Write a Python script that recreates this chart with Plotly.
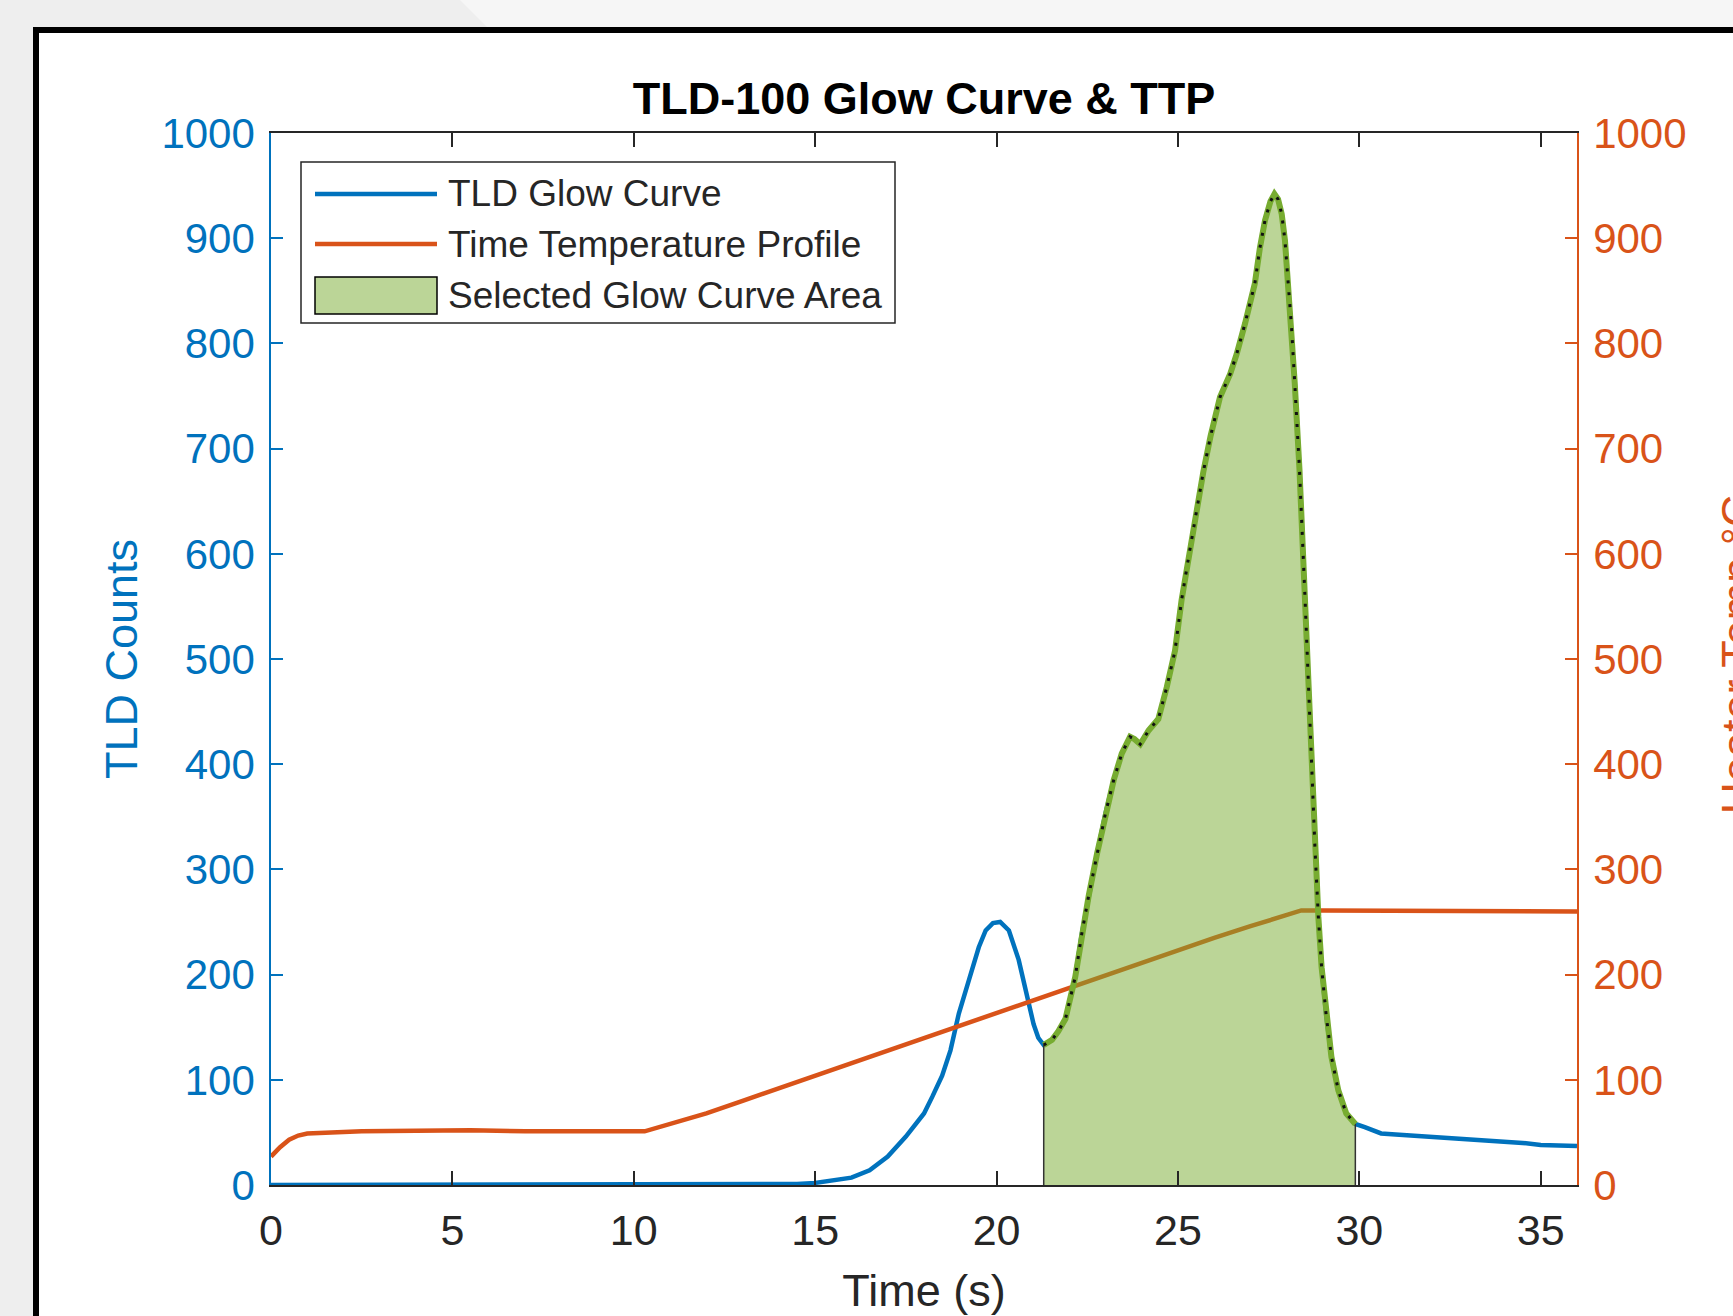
import plotly.graph_objects as go

# ---------------- data ----------------
glow_t = [0, 2, 4, 6, 8, 10, 12, 13, 13.5, 14, 14.5, 15, 15.5, 16, 16.5, 17, 17.5, 18,
          18.23, 18.5, 18.73, 18.96, 19.24, 19.51, 19.7, 19.9, 20.1, 20.34, 20.61, 20.84,
          21.02, 21.15, 21.3]
glow_counts = [0, 0, 0, 0, 0, 0, 0, 0, 1, 1, 1, 2, 4, 7, 14, 27, 46, 68,
               84, 104, 128, 163, 195, 226, 242, 249, 250, 242, 214, 179,
               153, 140, 133]

sel_t = [21.3, 21.53, 21.7, 21.9, 22.17, 22.35, 22.54, 22.77, 23.0, 23.23, 23.45, 23.68,
         23.8, 23.96, 24.19, 24.46, 24.69, 24.92, 25.1, 25.3, 25.5, 25.7, 25.9, 26.16,
         26.44, 26.62, 26.85, 27.12, 27.26, 27.4, 27.55, 27.66, 27.76, 27.86, 27.95,
         28.04, 28.13, 28.22, 28.35, 28.5, 28.65, 28.78, 28.87, 28.96, 29.09, 29.23,
         29.42, 29.64, 29.89]
sel_counts = [133, 138, 146, 158, 198, 239, 275, 315, 353, 385, 410, 426,
              424, 419, 432, 443, 473, 508, 556, 598, 638, 678, 712, 749,
              771, 790, 819, 857, 891, 917, 935, 942, 937, 923, 898,
              857, 816, 762, 680, 560, 420, 318, 255, 207, 160, 122,
              90, 68, 58]

tail_t = [30.15, 30.6, 31, 31.5, 32, 32.5, 33, 33.5, 34, 34.5, 35, 35.5, 36]
tail_counts = [55, 49, 48, 47, 45, 44, 43, 42, 41, 40, 38, 38, 37]

ttp_t = [0, 0.25, 0.5, 0.75, 1.0, 1.5, 2.5, 4, 5.5, 7, 8.5, 10, 10.3, 11, 12, 13, 14, 15,
         16, 17, 18, 19, 20, 21, 22, 23, 24, 25, 26, 27, 28, 28.4, 29, 30, 31, 32, 33,
         34, 35, 36]
ttp_temp = [27, 36, 43, 47, 49, 50, 51, 51.5, 52, 51, 51.5, 51, 51, 58, 68, 80, 92, 104,
            116, 128, 140, 152, 164, 176, 188, 200, 211, 223, 235, 246, 257, 261, 261,
            261, 260, 261, 260, 260, 260, 260]

x_ticks = [0, 5, 10, 15, 20, 25, 30, 35]
y_ticks = list(range(0, 1001, 100))

# ---------------- layout helpers ----------------
W, H = 1733, 1316
L, R, T, B = 271, 1577, 133, 1185


def px(xp):
    return (xp - L) / (R - L)


def py(yp):
    return 1 - (yp - T) / (B - T)


BLUE = "#0072BD"
ORANGE = "#D95319"
GREEN = "#77AC30"
DARK = "#262626"
FONT = "Liberation Sans, Arial, Helvetica, sans-serif"

full_t = glow_t + sel_t[1:] + tail_t
full_counts = glow_counts + sel_counts[1:] + tail_counts

fig = go.Figure()

fig.add_trace(go.Scatter(x=full_t, y=full_counts, mode="lines", name="TLD Glow Curve",
                         line=dict(color=BLUE, width=4.5), showlegend=False, yaxis="y"))
fig.add_trace(go.Scatter(x=ttp_t, y=ttp_temp, mode="lines", name="Time Temperature Profile",
                         line=dict(color=ORANGE, width=4.5), showlegend=False, yaxis="y2"))
fig.add_trace(go.Scatter(x=[sel_t[0]] + sel_t + [sel_t[-1]], y=[0] + sel_counts + [0],
                         mode="lines", fill="toself", fillcolor="rgba(119,172,48,0.5)",
                         line=dict(color="#333333", width=1.5), name="Selected Glow Curve Area",
                         showlegend=False, yaxis="y2"))
fig.add_trace(go.Scatter(x=sel_t, y=sel_counts, mode="lines", line=dict(color=GREEN, width=6),
                         showlegend=False, yaxis="y2", hoverinfo="skip"))
fig.add_trace(go.Scatter(x=sel_t, y=sel_counts, mode="lines",
                         line=dict(color="#111111", width=3, dash="3px,9px"),
                         showlegend=False, yaxis="y2", hoverinfo="skip"))

axis_common = dict(showgrid=False, zeroline=False, showline=True, ticks="inside",
                   tickwidth=1.5, linewidth=1.5, automargin=False)

fig.update_layout(
    width=W, height=H, autosize=False,
    margin=dict(l=L, r=W - R, t=T, b=H - B, pad=0, autoexpand=False),
    paper_bgcolor="#eeeeee",
    plot_bgcolor="white",
    font=dict(family=FONT, color=DARK),
    showlegend=False,
    title=dict(text="<b>TLD-100 Glow Curve & TTP</b>", x=0.5, xref="paper", xanchor="center",
               y=1 - 114 / H, yref="container", yanchor="bottom", automargin=False,
               font=dict(size=45, color="black", family=FONT)),
    xaxis=dict(range=[0, 36], tickvals=x_ticks, ticklen=14, tickcolor=DARK, linecolor=DARK,
               mirror="ticks", tickfont=dict(size=43, color=DARK), ticklabelstandoff=7,
               title=dict(text="Time (s)", font=dict(size=45, color=DARK), standoff=21),
               **axis_common),
    yaxis=dict(range=[0, 1000], tickvals=y_ticks, ticklen=12, tickcolor=BLUE, linecolor=BLUE,
               tickfont=dict(size=42, color=BLUE), ticklabelstandoff=6,
               title=dict(text="TLD Counts", font=dict(size=45, color=BLUE), standoff=10),
               **axis_common),
    yaxis2=dict(range=[0, 1000], tickvals=y_ticks, ticklen=12, tickcolor=ORANGE,
                linecolor=ORANGE, overlaying="y", side="right",
                tickfont=dict(size=42, color=ORANGE), ticklabelstandoff=6,
                **axis_common),
)

# background decoration and the black frame of the slide
shapes = [
    dict(type="path", xref="paper", yref="paper", layer="below",
         path=f"M{px(460)},{py(0)} L{px(1800)},{py(0)} L{px(1800)},{py(40)} L{px(500)},{py(40)} Z",
         fillcolor="#f6f6f6", line=dict(width=0)),
    dict(type="rect", xref="paper", yref="paper", layer="below",
         x0=px(36), x1=px(1850), y0=py(1450), y1=py(30),
         fillcolor="white", line=dict(color="black", width=6)),
]

# legend (drawn manually to match MATLAB's legend geometry)
shapes += [
    dict(type="rect", xref="paper", yref="paper", x0=px(301), x1=px(895), y0=py(323), y1=py(162),
         fillcolor="white", line=dict(color=DARK, width=1.5)),
    dict(type="line", xref="paper", yref="paper", x0=px(315), x1=px(437), y0=py(194), y1=py(194),
         line=dict(color=BLUE, width=4.5)),
    dict(type="line", xref="paper", yref="paper", x0=px(315), x1=px(437), y0=py(244), y1=py(244),
         line=dict(color=ORANGE, width=4.5)),
    dict(type="rect", xref="paper", yref="paper", x0=px(315), x1=px(437), y0=py(314), y1=py(277),
         fillcolor="rgba(119,172,48,0.5)", line=dict(color="black", width=1.5)),
]
legend_labels = ["TLD Glow Curve", "Time Temperature Profile", "Selected Glow Curve Area"]
legend_rows = [194, 244, 295]
annotations = [
    dict(text=lab, xref="paper", yref="paper", x=px(446), y=py(row), xanchor="left",
         yanchor="middle", showarrow=False, font=dict(size=37, color=DARK, family=FONT))
    for lab, row in zip(legend_labels, legend_rows)
]
# right-axis label: sits at the slide's right edge, so most of it is cut off, as in the original
annotations.append(
    dict(text="Heater Temp °C", xref="paper", yref="paper", x=px(1709), y=py(655),
         xanchor="left", yanchor="middle", textangle=-90, showarrow=False,
         font=dict(size=45, color=ORANGE, family=FONT))
)

fig.update_layout(shapes=shapes, annotations=annotations)

fig.write_html(
    "out.html",
    config={"responsive": False, "displayModeBar": False},
    post_script="document.body.style.margin='0';document.body.style.overflow='hidden';",
)
